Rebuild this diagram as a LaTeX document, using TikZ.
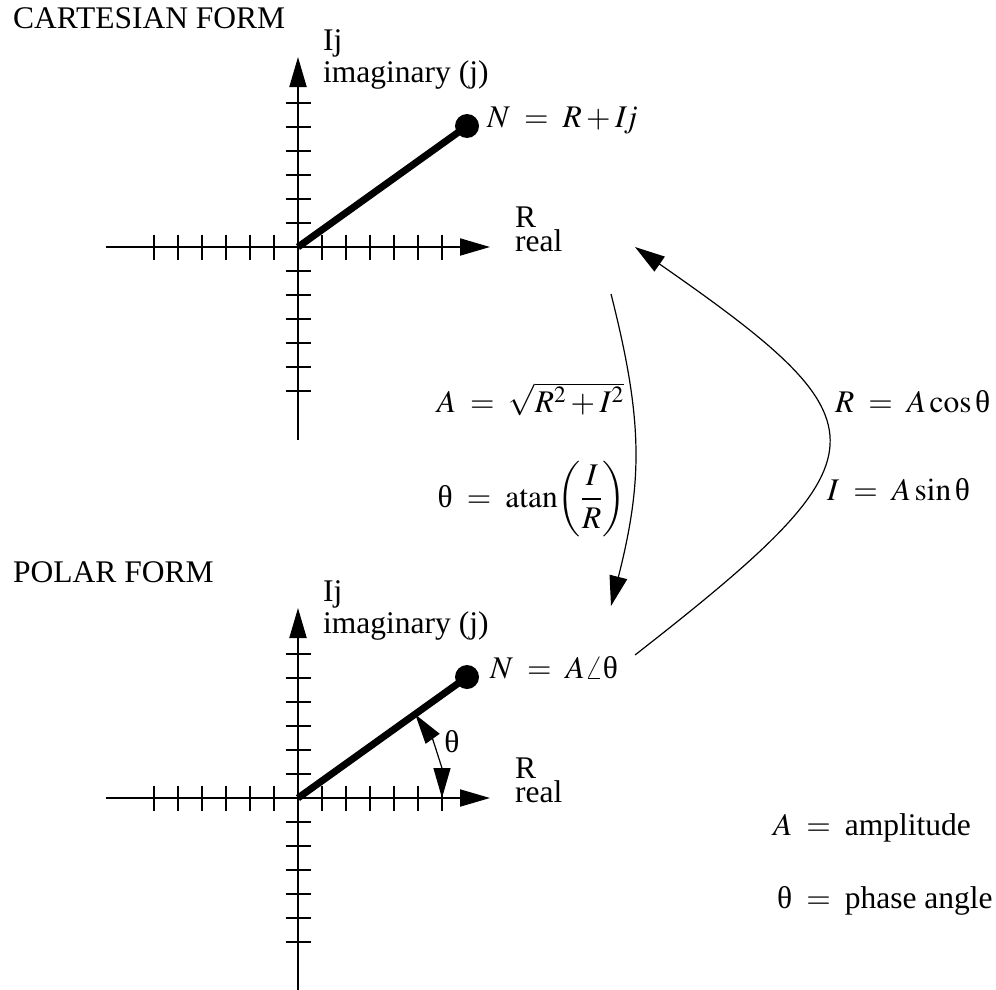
\documentclass[tikz,border=0pt]{standalone}
\usepackage{mathptmx}
\usepackage{fontspec}
\setmainfont{Liberation Serif}
\usetikzlibrary{arrows.meta}
\newcommand{\EQ}{\mathrel{\;=\;}}
\newcommand{\uth}{\mathord{\mbox{θ}}}
\begin{document}
\begin{tikzpicture}[x=1pt,y=-1pt,
  font=\fontsize{31.5}{37}\selectfont,
  axis/.style={line width=2pt},
  axtip/.style={-{Triangle[length=30pt,width=17pt]}},
  tickmark/.style={line width=2pt},
  vec/.style={line width=7pt},
  conn/.style={line width=1.2pt,-{Triangle[length=30pt,width=18pt]}},
  lbl/.style={inner sep=0pt,anchor=base west},
  lble/.style={inner sep=0pt,anchor=base east},
  two/.style={inner sep=0pt,anchor=base west,align=left}]
\useasboundingbox (0,0) rectangle (996,990);

\foreach \k/\dy in {1/0,2/551}{
  \begin{scope}[shift={(0,\dy)}]
    \coordinate (O\k) at (298,247);
    \coordinate (XL\k) at (106,247);
    \coordinate (XR\k) at (490,247);
    \coordinate (YB\k) at (298,440);
    \coordinate (YT\k) at (298,57);
    \draw[axis,axtip] (XL\k) -- (XR\k);
    \draw[axis,axtip] (YB\k) -- (YT\k);
    \foreach \i in {-6,...,-1,1,2,...,6}{
      \draw[tickmark] (298+\i*24,234.5) -- (298+\i*24,259.5);
      \draw[tickmark] (285.5,247+\i*24) -- (310.5,247+\i*24);
    }
    \node[circle,fill,inner sep=0pt,minimum size=24pt] (D\k) at (467,126) {};
    \draw[vec] (O\k) -- (D\k.center);
    \node[two,font=\fontsize{31.5}{32}\selectfont] (Ij\k) at (323,82) {Ij\\imaginary (j)};
    \node[two,font=\fontsize{31.5}{24}\selectfont] (R\k) at (515,251) {R\\real};
  \end{scope}
}

% angle arc
\draw[line width=1.2pt,{Triangle[length=30pt,width=17pt]}-{Triangle[length=30pt,width=17pt]}]
  (442,798) arc[start angle=0,end angle=-35.5,radius=144];
\node (th) at (452,742) {$\uth$};

\node[lbl] (cart) at (13,29) {CARTESIAN FORM};
\node[lbl] (polar) at (13,582) {POLAR FORM};
\node[lbl] (NC) at (487,127) {$N\EQ R+I\mkern-2mu j$};
\node[lbl] (NP) at (490,678) {$N\EQ A\angle\uth$};

\node[lble] (fA) at (624,412) {$A\EQ\sqrt{R^2+I^2}$};
\node[lble] (fT) at (626,507) {$\uth\EQ\mathrm{atan}\biggl({\displaystyle\frac{I}{R}}\biggr)$};
\node[lbl] (fR) at (835,412) {$R\EQ A\cos\uth$};
\node[lbl] (fI) at (827,500) {$I\EQ A\sin\uth$};

\node[lbl] (amp) at (773,835) {$A\EQ{}$amplitude};
\node[lbl] (ph) at (777,908) {$\uth\EQ{}$phase angle};

% conversion arrows
\coordinate (c1s) at (611,294);
\coordinate (c1e) at (611,606);
\draw[conn] (c1s) .. controls (643,420) and (643,480) .. (c1e);
\coordinate (c2s) at (635,655);
\coordinate (c2e) at (635,247);
\draw[conn] (c2s) .. controls (891,455) and (891,425) .. (c2e);
\end{tikzpicture}
\end{document}
